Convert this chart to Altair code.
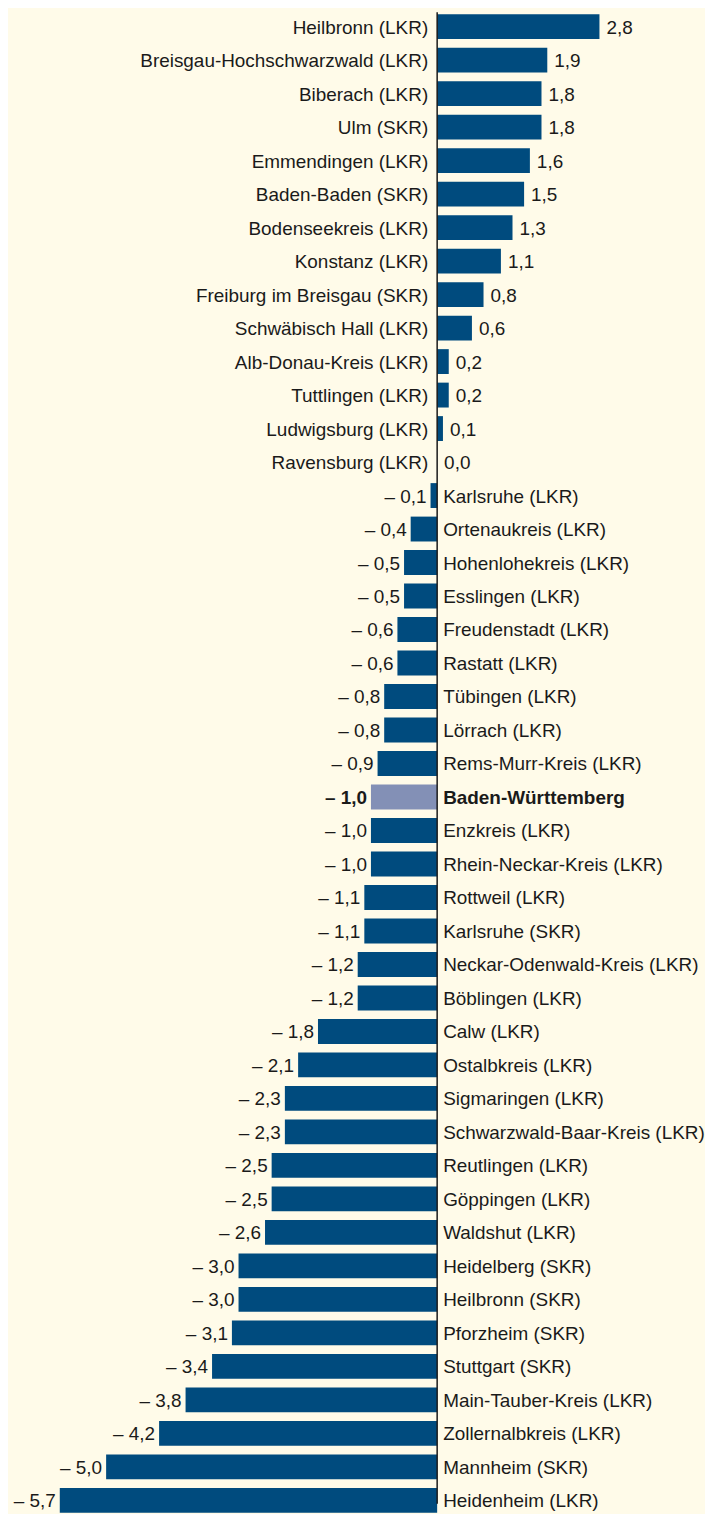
import altair as alt
import pandas as pd

names = [
    "Heilbronn (LKR)", "Breisgau-Hochschwarzwald (LKR)", "Biberach (LKR)", "Ulm (SKR)",
    "Emmendingen (LKR)", "Baden-Baden (SKR)", "Bodenseekreis (LKR)", "Konstanz (LKR)",
    "Freiburg im Breisgau (SKR)", "Schwäbisch Hall (LKR)", "Alb-Donau-Kreis (LKR)",
    "Tuttlingen (LKR)", "Ludwigsburg (LKR)", "Ravensburg (LKR)", "Karlsruhe (LKR)",
    "Ortenaukreis (LKR)", "Hohenlohekreis (LKR)", "Esslingen (LKR)", "Freudenstadt (LKR)",
    "Rastatt (LKR)", "Tübingen (LKR)", "Lörrach (LKR)", "Rems-Murr-Kreis (LKR)",
    "Baden-Württemberg", "Enzkreis (LKR)", "Rhein-Neckar-Kreis (LKR)", "Rottweil (LKR)",
    "Karlsruhe (SKR)", "Neckar-Odenwald-Kreis (LKR)", "Böblingen (LKR)", "Calw (LKR)",
    "Ostalbkreis (LKR)", "Sigmaringen (LKR)", "Schwarzwald-Baar-Kreis (LKR)",
    "Reutlingen (LKR)", "Göppingen (LKR)", "Waldshut (LKR)", "Heidelberg (SKR)",
    "Heilbronn (SKR)", "Pforzheim (SKR)", "Stuttgart (SKR)", "Main-Tauber-Kreis (LKR)",
    "Zollernalbkreis (LKR)", "Mannheim (SKR)", "Heidenheim (LKR)",
]
values = [
    2.8, 1.9, 1.8, 1.8, 1.6, 1.5, 1.3, 1.1, 0.8, 0.6, 0.2, 0.2, 0.1, 0.0,
    -0.1, -0.4, -0.5, -0.5, -0.6, -0.6, -0.8, -0.8, -0.9, -1.0, -1.0, -1.0,
    -1.1, -1.1, -1.2, -1.2, -1.8, -2.1, -2.3, -2.3, -2.5, -2.5, -2.6, -3.0,
    -3.0, -3.1, -3.4, -3.8, -4.2, -5.0, -5.7,
]
highlight = "Baden-Württemberg"


def fmt(v):
    s = f"{abs(v):.1f}".replace(".", ",")
    return f"– {s}" if v < 0 else s


df = pd.DataFrame({
    "name": names,
    "value": values,
    "label": [fmt(v) for v in values],
    "zero": [0.0] * len(names),
    "total": [n == highlight for n in names],
})

FONT = "Liberation Sans"
FS = 19
W, H = 697, 1498

x_scale = alt.Scale(domain=[-5.7, 0, 2.8], range=[52, 431, 594])
y_scale = alt.Scale(range=[2, 1507], paddingInner=0.257, paddingOuter=0)
y_enc = alt.Y("name:N", sort=names, scale=y_scale, axis=None)

base = alt.Chart(df)

bars = base.mark_bar().encode(
    x=alt.X("value:Q", scale=x_scale, axis=None),
    x2="zero:Q",
    y=y_enc,
    color=alt.condition(alt.datum.total, alt.value("#8390b6"), alt.value("#004b7e")),
)

pos = base.transform_filter("datum.value >= 0")
neg = base.transform_filter("datum.value < 0 && !datum.total")
tot = base.transform_filter("datum.total")

text_common = dict(font=FONT, fontSize=FS, baseline="middle", color="#1a1a1a", dy=1)

x_zero = alt.X("zero:Q", scale=x_scale, axis=None)
x_val = alt.X("value:Q", scale=x_scale, axis=None)

pos_name = pos.mark_text(align="right", dx=-9, **text_common).encode(
    x=x_zero, y=y_enc, text="name:N")
pos_val = pos.mark_text(align="left", dx=7, **text_common).encode(
    x=x_val, y=y_enc, text="label:N")
neg_name = neg.mark_text(align="left", dx=6, **text_common).encode(
    x=x_zero, y=y_enc, text="name:N")
neg_val = neg.mark_text(align="right", dx=-4, **text_common).encode(
    x=x_val, y=y_enc, text="label:N")
tot_name = tot.mark_text(align="left", dx=6, fontWeight="bold", **text_common).encode(
    x=x_zero, y=y_enc, text="name:N")
tot_val = tot.mark_text(align="right", dx=-4, fontWeight="bold", **text_common).encode(
    x=x_val, y=y_enc, text="label:N")

zero_line = alt.Chart(pd.DataFrame({"z": [0.0]})).mark_rule(
    color="#1a1a1a", strokeWidth=1.5
).encode(
    x=alt.X("z:Q", scale=x_scale, axis=None),
    y=alt.value(0), y2=alt.value(H),
)

chart = alt.layer(
    bars, zero_line, pos_name, pos_val, neg_name, neg_val, tot_name, tot_val
).properties(
    width=W, height=H, padding=0, background="#fffbe9",
).configure_view(stroke=None, fill="#fffbe9")

chart.save("out.html", embed_options={"renderer": "svg", "actions": False})
